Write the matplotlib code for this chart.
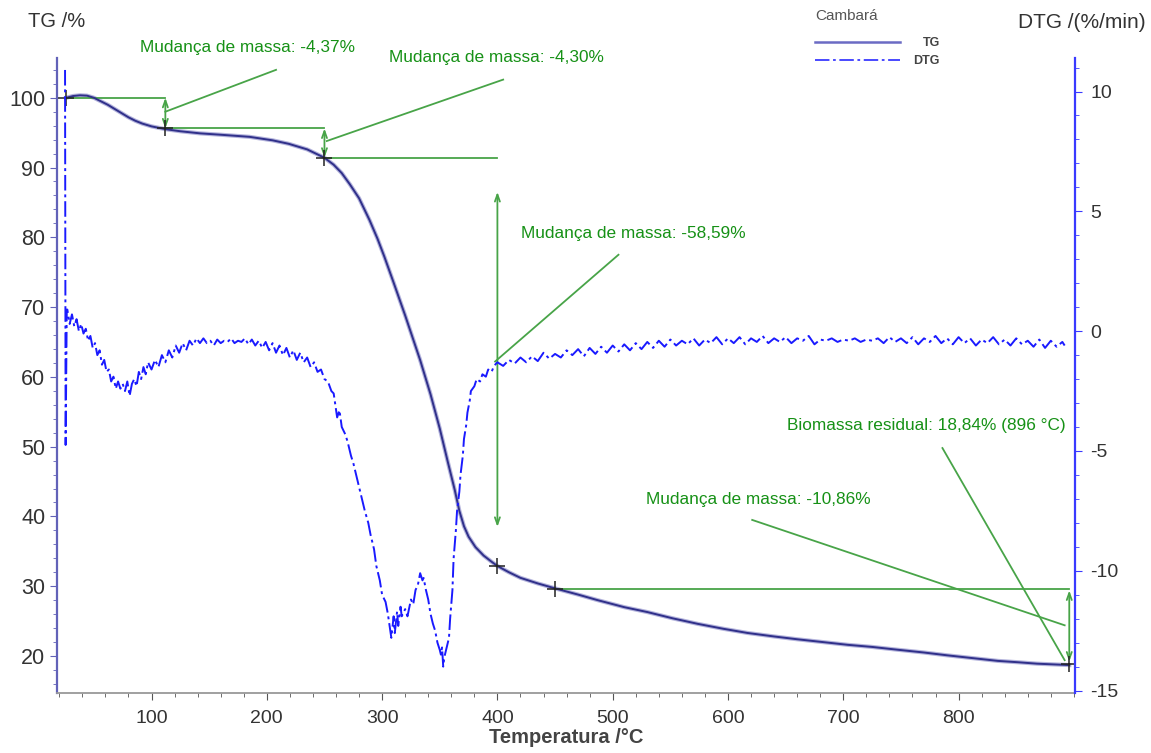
import matplotlib
matplotlib.use('Agg')
import matplotlib.pyplot as plt
from matplotlib.lines import Line2D
from matplotlib.ticker import MultipleLocator

plt.rcParams['font.family'] = ['Liberation Sans', 'DejaVu Sans']
plt.rcParams['axes.unicode_minus'] = False

# TG curve (temperature in C, mass in %)
tg_temp = [26, 32, 38, 44, 50, 56, 62, 68, 74, 80, 86, 92, 100, 106, 112, 125, 142,
           160, 185, 205, 219, 235, 250, 258, 265, 272, 280, 289, 296, 302, 310, 320,
           333, 342, 350, 357, 363, 367, 371, 375, 381, 388, 395, 400, 410, 420, 435,
           452, 470, 487, 510, 530, 552, 574, 596, 617, 640, 660, 682, 704, 725, 747,
           770, 790, 812, 834, 852, 868, 882, 896]
tg_mass = [100.0, 100.25, 100.35, 100.3, 100.0, 99.5, 99.0, 98.4, 97.8, 97.2, 96.7,
           96.3, 95.9, 95.7, 95.5, 95.2, 94.9, 94.7, 94.4, 93.9, 93.4, 92.6, 91.4, 90.4,
           89.2, 87.6, 85.6, 82.5, 79.8, 77.2, 73.5, 68.8, 62.4, 57.5, 52.6, 47.8, 43.8,
           40.8, 38.6, 37.1, 35.6, 34.4, 33.5, 32.9, 32.0, 31.2, 30.4, 29.6, 28.8, 28.0,
           27.0, 26.3, 25.4, 24.6, 23.9, 23.3, 22.8, 22.4, 22.0, 21.6, 21.3, 20.9, 20.5,
           20.1, 19.7, 19.3, 19.1, 18.9, 18.8, 18.7]

# DTG curve (%/min), estimated point by point incl. the visible scatter
dtg_temp = [25, 25.5, 26.5,
            27, 29, 31, 33, 35, 37, 39, 41, 43, 45, 47, 49, 51, 53, 55, 57, 59, 61, 63, 65,
            67, 69, 71, 73, 75, 77, 79, 81, 83, 85, 87, 89, 91, 93, 95, 97, 100, 103, 106,
            109, 112, 115, 118, 121, 124, 127, 130, 133, 136, 139, 142, 145, 148, 151, 154,
            157, 160, 163, 166, 169, 172, 175, 178, 181, 184, 187, 190, 193, 196, 199, 202,
            205, 208, 211, 214, 217, 220, 223, 226, 229, 232, 235, 238, 241, 244, 247, 250,
            253, 256, 258, 261, 263, 265, 268, 270, 273, 275, 278, 280, 283, 285, 288, 290,
            293, 295, 298, 300, 303, 305, 308, 310, 311, 313, 314, 316, 317, 320, 322, 325,
            327, 329, 331, 333, 335, 336, 338, 340, 342, 344, 346, 348, 350, 351, 352, 353,
            354, 356, 358, 359, 361, 362, 364, 365, 367, 368, 370, 371, 373, 374, 376, 377,
            380, 382, 385, 387, 390, 392, 395, 397,
            400, 405, 410, 415, 420, 425, 430, 435, 440, 445,
            450, 455, 460, 465, 470, 475, 480, 485, 490, 495,
            500, 505, 510, 515, 520, 525, 530, 535, 540, 545,
            550, 555, 560, 565, 570, 575, 580, 585, 590, 595,
            600, 605, 610, 615, 620, 625, 630, 635, 640, 645,
            650, 655, 660, 665, 670, 675, 680, 685, 690, 695,
            700, 705, 710, 715, 720, 725, 730, 735, 740, 745,
            750, 755, 760, 765, 770, 775, 780, 785, 790, 795,
            800, 805, 810, 815, 820, 825, 830, 835, 840, 845,
            850, 855, 860, 865, 870, 875, 880, 885, 890, 892]
dtg_rate = [10.9, -4.75, 0.9,
            0.9, 0.3, 0.7, 0.2, 0.5, 0.0, 0.3, -0.1, 0.1, -0.4, -0.2, -0.7, -0.5, -1.0, -0.8,
            -1.4, -1.2, -1.7, -1.6, -2.1, -1.9, -2.4, -2.1, -2.4, -2.2, -2.5, -2.1, -2.7,
            -2.2, -2.0, -2.3, -1.7, -2.0, -1.5, -1.8, -1.3, -1.6, -1.2, -1.5, -1.0, -1.3,
            -0.8, -1.1, -0.6, -0.9, -0.5, -0.8, -0.4, -0.6, -0.3, -0.5, -0.3, -0.5, -0.4,
            -0.6, -0.35, -0.5, -0.4, -0.45, -0.3, -0.5, -0.4, -0.45, -0.3, -0.55, -0.35,
            -0.6, -0.4, -0.7, -0.45, -0.8, -0.5, -0.9, -0.6, -1.0, -0.7, -1.1, -0.8, -1.2,
            -0.9, -1.3, -1.1, -1.5, -1.3, -1.7, -1.6, -2.0, -2.1, -2.5, -2.6, -3.6, -3.3,
            -4.0, -4.3, -4.6, -5.2, -5.5, -6.1, -6.5, -7.1, -7.5, -8.0, -8.5, -9.1, -9.8,
            -10.4, -11.0, -11.3, -11.8, -12.8, -11.9, -12.6, -11.7, -12.3, -11.5, -11.9,
            -11.6, -11.9, -11.2, -11.4, -10.8, -10.6, -10.1, -10.4, -10.3, -10.8, -11.2,
            -11.8, -12.2, -12.5, -13.0, -13.3, -13.5, -13.2, -14.0, -13.6, -13.2, -12.8,
            -12.0, -10.8, -9.5, -8.3, -7.5, -6.7, -6.0, -5.2, -4.5, -3.9, -3.4, -2.9, -2.5,
            -2.3, -2.0, -2.1, -1.8, -1.9, -1.6, -1.7, -1.45,
            -1.30, -1.45, -1.20, -1.35, -1.10, -1.30, -1.05, -1.25, -0.90, -1.15,
            -0.95, -1.10, -0.80, -1.00, -0.75, -1.05, -0.70, -0.95, -0.65, -0.90,
            -0.60, -0.85, -0.55, -0.80, -0.50, -0.75, -0.45, -0.70, -0.40, -0.65,
            -0.35, -0.60, -0.40, -0.55, -0.30, -0.60, -0.35, -0.50, -0.25, -0.55,
            -0.30, -0.50, -0.25, -0.55, -0.30, -0.45, -0.20, -0.50, -0.30, -0.45,
            -0.25, -0.50, -0.30, -0.40, -0.20, -0.55, -0.35, -0.40, -0.30, -0.45,
            -0.35, -0.40, -0.30, -0.45, -0.35, -0.40, -0.30, -0.50, -0.25, -0.45,
            -0.30, -0.50, -0.25, -0.55, -0.30, -0.45, -0.20, -0.50, -0.30, -0.55,
            -0.25, -0.50, -0.30, -0.60, -0.35, -0.50, -0.25, -0.55, -0.35, -0.60,
            -0.30, -0.55, -0.40, -0.65, -0.35, -0.70, -0.40, -0.65, -0.45, -0.60]

# evaluation points (+ markers) and the mass change steps
step_temp = [26, 112, 250, 400, 450, 896]
step_mass = [100.0, 95.6, 91.4, 32.9, 29.6, 18.8]
step_labels = ['Mudança de massa: -4,37%', 'Mudança de massa: -4,30%',
               'Mudança de massa: -58,59%', 'Mudança de massa: -10,86%',
               'Biomassa residual: 18,84% (896 °C)']

GREEN_TXT = '#169116'
GREEN_LN = '#48a448'
DTG_STYLE = (0, (8, 2, 1.5, 2))

fig = plt.figure(figsize=(11.51, 7.53), dpi=100)
ax = fig.add_axes([0.0495, 0.0797, 0.8845, 0.8433])
ax2 = ax.twinx()

# TG
ax.plot(tg_temp, tg_mass, color='#b4b4dc', lw=3.0, zorder=2)
ax.plot(tg_temp, tg_mass, color='#30308a', lw=1.4, zorder=3)
ax.plot(step_temp, step_mass, ls='none', marker='+', ms=11, mew=1.1, color='#222222', zorder=5)

# DTG
ax2.plot(dtg_temp, dtg_rate, color='#1a1aff', lw=1.4, ls=DTG_STYLE, zorder=2)

# green construction lines
ax.plot([step_temp[0], step_temp[1]], [step_mass[0], step_mass[0]], color=GREEN_LN, lw=1.3)
ax.plot([step_temp[1], step_temp[2]], [step_mass[1], step_mass[1]], color=GREEN_LN, lw=1.3)
ax.plot([step_temp[2], step_temp[3]], [step_mass[2], step_mass[2]], color=GREEN_LN, lw=1.3)
ax.plot([step_temp[4], step_temp[5]], [step_mass[4], step_mass[4]], color=GREEN_LN, lw=1.3)

arrows = [(112, 100.0, 95.6), (250, 95.6, 91.4), (400, 86.5, 38.5), (896, 29.4, 19.2)]
for x, y0, y1 in arrows:
    ax.annotate('', xy=(x, y1), xytext=(x, y0),
                arrowprops=dict(arrowstyle='<->,head_length=0.5,head_width=0.18',
                                color=GREEN_LN, lw=1.3, shrinkA=0, shrinkB=0))

leaders = [((112, 98.0), (208, 104.0)), ((252, 93.8), (405, 102.6)),
           ((398, 62.2), (505, 77.5)), ((892, 24.4), (621, 39.5)),
           ((892, 19.4), (786, 49.8))]
for (xa, ya), (xb, yb) in leaders:
    ax.plot([xa, xb], [ya, yb], color=GREEN_LN, lw=1.3, clip_on=False)

text_pos = [(183, 107.2), (399, 105.7), (518, 80.5), (626, 42.4), (772, 53.1)]
for (tx, ty), lab in zip(text_pos, step_labels):
    ax.text(tx, ty, lab, color=GREEN_TXT, fontsize=12.4, ha='center', va='center',
            clip_on=False, zorder=6)

# axes styling
ax.set_xlim(18, 901)
ax.set_ylim(14.7, 105.7)
ax2.set_ylim(-15.1, 11.4)

ax.xaxis.set_minor_locator(MultipleLocator(20))
ax.set_xticks(range(100, 900, 100))
ax.yaxis.set_minor_locator(MultipleLocator(2))
ax.set_yticks(range(20, 101, 10))
ax2.set_yticks(range(-15, 11, 5))
ax2.yaxis.set_minor_locator(MultipleLocator(1))

for s in ['top', 'right']:
    ax.spines[s].set_visible(False)
for s in ['top', 'left', 'bottom']:
    ax2.spines[s].set_visible(False)
ax.spines['left'].set_color('#6262b8')
ax.spines['left'].set_linewidth(1.6)
ax.spines['bottom'].set_color('#999999')
ax.spines['bottom'].set_linewidth(1.3)
ax2.spines['right'].set_color('#3a3aff')
ax2.spines['right'].set_linewidth(1.6)

ax.tick_params(axis='y', which='both', colors='#6262b8', labelcolor='#333333', labelsize=15.5)
ax.tick_params(axis='y', which='major', length=5)
ax.tick_params(axis='y', which='minor', length=3)
ax.tick_params(axis='x', which='both', colors='#555555', labelcolor='#333333', labelsize=14)
ax.tick_params(axis='x', which='major', length=5, pad=7)
ax.tick_params(axis='x', which='minor', length=3)
ax2.tick_params(axis='y', which='both', colors='#3a3aff', labelcolor='#333333', labelsize=14)
ax2.tick_params(axis='y', which='major', length=5, pad=6)
ax2.tick_params(axis='y', which='minor', length=3)

ax.set_xlabel('Temperatura /°C', fontsize=14.5, fontweight='bold', color='#444444', labelpad=1)
fig.text(0.024, 0.972, 'TG /%', fontsize=14.5, color='#333333', ha='left', va='center')
fig.text(0.995, 0.970, 'DTG /(%/min)', fontsize=15, color='#333333', ha='right', va='center')

# legend, drawn by hand to match the instrument layout
fig.text(815 / 1151, 1 - 16 / 753, 'Cambará', fontsize=11, color='#555555', ha='left', va='center')
fig.add_artist(Line2D([815 / 1151, 900 / 1151], [1 - 42 / 753] * 2, color='#6b6bc4', lw=1.8,
                      transform=fig.transFigure))
fig.add_artist(Line2D([815 / 1151, 900 / 1151], [1 - 60 / 753] * 2, color='#3a3aff', lw=1.3,
                      ls=DTG_STYLE, transform=fig.transFigure))
fig.text(940 / 1151, 1 - 43 / 753, 'TG', fontsize=9, fontweight='bold', color='#444444',
         ha='right', va='center')
fig.text(940 / 1151, 1 - 61 / 753, 'DTG', fontsize=9, fontweight='bold', color='#444444',
         ha='right', va='center')

fig.savefig('out.png', dpi=100)
